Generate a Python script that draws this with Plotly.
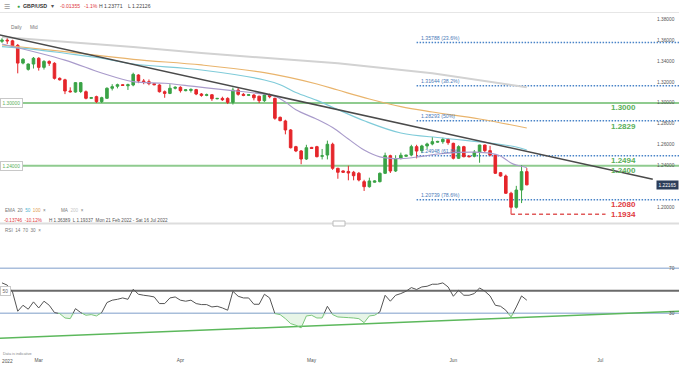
import pandas as pd
import plotly.graph_objects as go

# ---------------- data ----------------
dates = ["2022-02-21","2022-02-22","2022-02-23","2022-02-24","2022-02-25","2022-02-27","2022-02-28",
 "2022-03-01","2022-03-02","2022-03-03","2022-03-04","2022-03-06","2022-03-07","2022-03-08","2022-03-09","2022-03-10","2022-03-11",
 "2022-03-13","2022-03-14","2022-03-15","2022-03-16","2022-03-17","2022-03-18","2022-03-20","2022-03-21","2022-03-22","2022-03-23",
 "2022-03-24","2022-03-25","2022-03-27","2022-03-28","2022-03-29","2022-03-30","2022-03-31",
 "2022-04-01","2022-04-03","2022-04-04","2022-04-05","2022-04-06","2022-04-07","2022-04-08","2022-04-10","2022-04-11","2022-04-12",
 "2022-04-13","2022-04-14","2022-04-15","2022-04-17","2022-04-18","2022-04-19","2022-04-20","2022-04-21","2022-04-22","2022-04-24",
 "2022-04-25","2022-04-26","2022-04-27","2022-04-28","2022-04-29",
 "2022-05-01","2022-05-02","2022-05-03","2022-05-04","2022-05-05","2022-05-06","2022-05-08","2022-05-09","2022-05-10","2022-05-11",
 "2022-05-12","2022-05-13","2022-05-15","2022-05-16","2022-05-17","2022-05-18","2022-05-19","2022-05-20","2022-05-22","2022-05-23",
 "2022-05-24","2022-05-25","2022-05-26","2022-05-27","2022-05-29","2022-05-30","2022-05-31",
 "2022-06-01","2022-06-02","2022-06-03","2022-06-05","2022-06-06","2022-06-07","2022-06-08","2022-06-09","2022-06-10","2022-06-12",
 "2022-06-13","2022-06-14","2022-06-15","2022-06-16","2022-06-17"]

opens = [1.3590,1.3602,1.3595,1.3552,1.3382,1.3322,1.3373,1.3428,1.3341,1.3398,
 1.3380,1.3236,1.3222,1.3115,1.3105,1.3110,1.3108,1.3045,1.3061,1.3013,
 1.3045,1.3141,1.3160,1.3175,1.3165,1.3172,1.3268,1.3211,1.3204,1.3185,
 1.3172,1.3108,1.3092,1.3141,1.3150,1.3118,1.3120,1.3128,1.3086,1.3073,
 1.3079,1.3040,1.3044,1.3044,1.3006,1.3124,1.3083,1.3073,1.3076,1.3065,
 1.3022,1.3077,1.3045,1.2863,1.2828,1.2742,1.2582,1.2541,1.2464,1.2575,
 1.2582,1.2490,1.2502,1.2605,1.2375,1.2350,1.2345,1.2337,1.2327,1.2247,
 1.2199,1.2242,1.2247,1.2327,1.2496,1.2349,1.2470,1.2490,1.2502,1.2582,
 1.2544,1.2589,1.2608,1.2625,1.2630,1.2652,1.2614,1.2471,1.2582,1.2492,
 1.2490,1.2530,1.2598,1.2544,1.2502,1.2333,1.2301,1.2136,1.2002,1.2167,
 1.2343]
highs = [1.3620,1.3625,1.3605,1.3565,1.3430,1.3378,1.3440,1.3438,1.3410,1.3408,
 1.3390,1.3245,1.3232,1.3150,1.3200,1.3200,1.3120,1.3058,1.3070,1.3060,
 1.3150,1.3180,1.3185,1.3180,1.3185,1.3290,1.3275,1.3230,1.3225,1.3190,
 1.3180,1.3120,1.3180,1.3160,1.3160,1.3132,1.3140,1.3135,1.3095,1.3090,
 1.3085,1.3048,1.3060,1.3055,1.3148,1.3150,1.3095,1.3085,1.3085,1.3070,
 1.3090,1.3090,1.3050,1.2870,1.2840,1.2750,1.2590,1.2550,1.2600,1.2580,
 1.2590,1.2560,1.2640,1.2620,1.2380,1.2355,1.2400,1.2350,1.2340,1.2265,
 1.2285,1.2260,1.2335,1.2525,1.2505,1.2500,1.2525,1.2505,1.2600,1.2600,
 1.2600,1.2620,1.2675,1.2638,1.2668,1.2665,1.2620,1.2595,1.2590,1.2497,
 1.2550,1.2600,1.2600,1.2590,1.2510,1.2340,1.2315,1.2150,1.2207,1.2406,
 1.2377]
lows = [1.3575,1.3565,1.3540,1.3284,1.3370,1.3310,1.3330,1.3310,1.3320,1.3355,
 1.3225,1.3215,1.3085,1.3100,1.3099,1.3095,1.3035,1.3040,1.3000,1.3000,
 1.3040,1.3120,1.3140,1.3165,1.3125,1.3160,1.3190,1.3180,1.3170,1.3170,
 1.3100,1.3050,1.3085,1.3130,1.3100,1.3112,1.3100,1.3075,1.3060,1.3065,
 1.3020,1.3036,1.3020,1.2990,1.2985,1.3070,1.3065,1.3068,1.3025,1.3000,
 1.3010,1.3045,1.2840,1.2825,1.2700,1.2565,1.2530,1.2414,1.2455,1.2560,
 1.2480,1.2460,1.2460,1.2360,1.2275,1.2330,1.2260,1.2260,1.2250,1.2158,
 1.2190,1.2238,1.2240,1.2320,1.2330,1.2340,1.2460,1.2485,1.2490,1.2470,
 1.2520,1.2560,1.2595,1.2620,1.2610,1.2600,1.2460,1.2465,1.2480,1.2480,
 1.2480,1.2428,1.2530,1.2490,1.2320,1.2295,1.2130,1.1934,1.1990,1.2042,
 1.2213]
closes = [1.3602,1.3595,1.3548,1.3382,1.3418,1.3373,1.3428,1.3341,1.3398,1.3380,
 1.3236,1.3222,1.3115,1.3108,1.3195,1.3195,1.3045,1.3051,1.3013,1.3051,
 1.3141,1.3156,1.3175,1.3168,1.3175,1.3274,1.3211,1.3204,1.3185,1.3175,
 1.3108,1.3092,1.3141,1.3150,1.3118,1.3126,1.3130,1.3086,1.3073,1.3079,
 1.3041,1.3044,1.3031,1.3006,1.3124,1.3083,1.3073,1.3079,1.3050,1.3022,
 1.3077,1.3060,1.2854,1.2831,1.2742,1.2572,1.2541,1.2464,1.2572,1.2565,
 1.2486,1.2495,1.2605,1.2375,1.2337,1.2337,1.2330,1.2304,1.2263,1.2199,
 1.2254,1.2254,1.2327,1.2496,1.2349,1.2464,1.2500,1.2500,1.2582,1.2540,
 1.2589,1.2608,1.2630,1.2632,1.2652,1.2620,1.2471,1.2582,1.2486,1.2486,
 1.2530,1.2598,1.2544,1.2502,1.2327,1.2301,1.2136,1.2002,1.2167,1.2343,
 1.22165]

rsi = [57,55,49,31.8,37.1,33.6,40.1,34.7,40.7,37.1,
 30.6,29.7,25.8,25.2,34.1,30.6,28.2,28.8,27.6,30.6,
 39.5,41.6,42.4,43.6,42.4,51.3,46.9,46.0,45.4,44.5,
 38.6,38.6,43.6,44.5,41.6,40.7,41.6,38.6,37.7,37.7,
 35.6,36.2,34.7,32.7,49.5,45.1,43.6,43.6,38.0,38.0,
 46.9,43.6,29.7,28.8,25.2,20.8,19.3,17.0,27.6,28.2,
 25.8,25.8,36.2,28.8,26.7,26.4,26.1,25.8,25.2,21.6,
 27.6,28.2,31.2,46.0,40.7,46.0,47.5,49.6,52.8,51.1,
 53.4,54.0,55.8,55.8,57.0,53.4,45.1,50.4,46.0,46.0,
 47.5,52.5,49.6,45.4,37.1,36.2,32.7,26.7,35.6,45.4,
 41.6]

ema20_dates = ["2022-02-21","2022-03-07","2022-03-15","2022-03-22","2022-03-29","2022-04-05","2022-04-12","2022-04-20",
 "2022-04-22","2022-04-25","2022-04-27","2022-05-02","2022-05-05","2022-05-09","2022-05-12","2022-05-16","2022-05-20",
 "2022-05-25","2022-05-29","2022-06-02","2022-06-06","2022-06-09","2022-06-12","2022-06-13","2022-06-14","2022-06-15",
 "2022-06-16","2022-06-17"]
ema20_vals = [1.3565,1.3411,1.3287,1.3204,1.3189,1.3156,1.3124,1.3085,1.3065,1.3010,1.2935,1.2845,1.2765,1.2655,
 1.2550,1.2485,1.2468,1.2490,1.2512,1.2527,1.2530,1.2520,1.2492,1.2460,1.2425,1.2405,1.2395,1.2380]

ema50_dates = ["2022-02-21","2022-02-28","2022-03-07","2022-03-15","2022-03-22","2022-04-06","2022-04-20","2022-04-24",
 "2022-04-27","2022-05-02","2022-05-05","2022-05-12","2022-05-20","2022-05-30","2022-06-09","2022-06-15","2022-06-17"]
ema50_vals = [1.3539,1.3514,1.3476,1.3428,1.3373,1.3316,1.3220,1.3175,1.3100,1.3025,1.2960,1.2830,1.2713,1.2665,
 1.2617,1.2579,1.2550]

ema100_dates = ["2022-02-21","2022-03-07","2022-03-22","2022-04-06","2022-04-20","2022-05-02","2022-05-06","2022-05-13",
 "2022-05-20","2022-05-27","2022-06-07","2022-06-17"]
ema100_vals = [1.3555,1.3491,1.3418,1.3364,1.3290,1.3182,1.3124,1.3038,1.2965,1.2914,1.2847,1.2761]

ma200_dates = ["2022-02-21","2022-03-22","2022-04-06","2022-05-06","2022-05-27","2022-06-07","2022-06-17"]
ma200_vals = [1.3632,1.3536,1.3478,1.3380,1.3284,1.3220,1.3150]

trend_dates = ["2022-02-20", "2022-07-11"]
trend_vals = [1.3658, 1.2270]
rsi_trend_dates = ["2022-02-20", "2022-07-16"]
rsi_trend_vals = [7.6, 31.8]

fib_levels = [1.35788, 1.31644, 1.28293, 1.24948, 1.20739]
fib_texts = ["1.35788 (23.6%)", "1.31644 (38.2%)", "1.28293 (50%)", "1.24948 (61.8%)", "1.20739 (78.6%)"]
fib_start = "2022-05-24"
green_levels = [1.30, 1.24]
green_level_texts = ["1.30000", "1.24000"]
low_level = 1.1934
low_dates = ["2022-06-14", "2022-07-02"]

price_ticks = [1.20, 1.24, 1.26, 1.28, 1.30, 1.32, 1.34, 1.36, 1.38]
rsi_ticks = [30, 70]
month_dates = ["2022-03-01", "2022-04-01", "2022-05-01", "2022-06-01", "2022-07-01"]
month_labels = ["Mar", "Apr", "May", "Jun", "Jul"]
last_price = 1.22165

# ---------------- x scale (daily candles incl. Sundays, then calendar days) ----------------
_ts = [pd.Timestamp(d) for d in dates]
_idx = {d: i for i, d in enumerate(_ts)}
def pos(d):
    d = pd.Timestamp(d)
    if d in _idx:
        return _idx[d]
    if d < _ts[0]:
        return -(_ts[0] - d).days
    if d > _ts[-1]:
        return len(_ts) - 1 + (d - _ts[-1]).days
    prev = max(t for t in _ts if t < d)
    return _idx[prev] + 0.5

xs = [pos(d) for d in dates]

W, H = 679, 365
def py(p):
    return 1 - p / H

GREEN = "#3aa346"
RED = "#e5262b"
NB = "\u00a0"

fig = go.Figure()

fig.add_trace(go.Scatter(x=[pos(d) for d in ma200_dates], y=ma200_vals, mode="lines",
                         line=dict(color="#d2d2d2", width=2), hoverinfo="skip"))
fig.add_trace(go.Scatter(x=[pos(d) for d in ema100_dates], y=ema100_vals, mode="lines",
                         line=dict(color="#e9b46c", width=1.2, shape="spline"), hoverinfo="skip"))
fig.add_trace(go.Scatter(x=[pos(d) for d in ema50_dates], y=ema50_vals, mode="lines",
                         line=dict(color="#7fcbd9", width=1.2, shape="spline"), hoverinfo="skip"))
fig.add_trace(go.Scatter(x=[pos(d) for d in ema20_dates], y=ema20_vals, mode="lines",
                         line=dict(color="#a99bcb", width=1.2, shape="spline"), hoverinfo="skip"))
fig.add_trace(go.Scatter(x=[pos(d) for d in trend_dates], y=trend_vals, mode="lines",
                         line=dict(color="#4a4a4a", width=1.5), hoverinfo="skip"))

fig.add_trace(go.Candlestick(x=xs, open=opens, high=highs, low=lows, close=closes,
                             increasing=dict(line=dict(color=GREEN, width=1), fillcolor=GREEN),
                             decreasing=dict(line=dict(color=RED, width=1), fillcolor=RED),
                             whiskerwidth=0, hoverinfo="skip"))

fig.add_trace(go.Scatter(x=[pos(d) for d in low_dates], y=[low_level, low_level], mode="lines",
                         line=dict(color="#e05a5a", width=1.5, dash="4px,3px"), hoverinfo="skip"))

# ---------------- RSI ----------------
def split(xv, yv, thr=30.0):
    bx, by, gx, gy = [], [], [], []
    for k in range(len(xv) - 1):
        x0, y0, x1, y1 = xv[k], yv[k], xv[k + 1], yv[k + 1]
        if y0 >= thr and y1 >= thr:
            bx += [x0, x1, None]; by += [y0, y1, None]
        elif y0 < thr and y1 < thr:
            gx += [x0, x1, None]; gy += [y0, y1, None]
        else:
            t = (thr - y0) / (y1 - y0)
            xc = x0 + t * (x1 - x0)
            if y0 >= thr:
                bx += [x0, xc, None]; by += [y0, thr, None]
                gx += [xc, x1, None]; gy += [thr, y1, None]
            else:
                gx += [x0, xc, None]; gy += [y0, thr, None]
                bx += [xc, x1, None]; by += [thr, y1, None]
    return bx, by, gx, gy

bx, by, gx, gy = split(xs, rsi)
fig.add_trace(go.Scatter(x=xs, y=[30] * len(xs), mode="lines", line=dict(width=0),
                         yaxis="y2", hoverinfo="skip"))
fig.add_trace(go.Scatter(x=xs, y=[min(v, 30) for v in rsi], mode="lines", line=dict(width=0),
                         fill="tonexty", fillcolor="rgba(120,200,120,0.18)", yaxis="y2", hoverinfo="skip"))
fig.add_trace(go.Scatter(x=[pos(d) for d in rsi_trend_dates], y=rsi_trend_vals, mode="lines",
                         line=dict(color="#5cb85c", width=1.5), yaxis="y2", hoverinfo="skip"))
fig.add_trace(go.Scatter(x=bx, y=by, mode="lines", line=dict(color="#555555", width=1),
                         yaxis="y2", hoverinfo="skip"))
fig.add_trace(go.Scatter(x=gx, y=gy, mode="lines", line=dict(color="#7cc77c", width=1),
                         yaxis="y2", hoverinfo="skip"))

# ---------------- shapes ----------------
shapes = []
shapes.append(dict(type="line", xref="paper", yref="paper", x0=0, x1=1, y0=py(12.5), y1=py(12.5),
                   line=dict(color="#e6e6e6", width=1)))
shapes.append(dict(type="line", xref="paper", yref="paper", x0=0, x1=1, y0=py(223.5), y1=py(223.5),
                   line=dict(color="#dddddd", width=2)))
shapes.append(dict(type="rect", xref="paper", yref="paper", x0=333 / W, x1=345 / W, y0=py(226), y1=py(221),
                   line=dict(color="#bbbbbb", width=1), fillcolor="white"))
for lv in green_levels:
    shapes.append(dict(type="line", xref="paper", yref="y", x0=0, x1=1, y0=lv, y1=lv, layer="below",
                       line=dict(color="#8fcb8f", width=2)))
for lv in fib_levels:
    shapes.append(dict(type="line", xref="x", yref="y", x0=pos(fib_start), x1=pos("2022-07-16"), y0=lv, y1=lv,
                       layer="below", line=dict(color="#4a84c8", width=1.5, dash="1.5px,1.5px")))
for lv, col, wd in [(70, "#a9bedc", 1.5), (30, "#a9bedc", 1.5), (50, "#6a6a6a", 2)]:
    shapes.append(dict(type="line", xref="paper", yref="y2", x0=0, x1=1, y0=lv, y1=lv, layer="below",
                       line=dict(color=col, width=wd)))

# ---------------- annotations ----------------
ann = []
FONT = "Arial, Liberation Sans, sans-serif"
def txt(px, pyy, s, color="#555", size=5, xanchor="left"):
    ann.append(dict(xref="paper", yref="paper", x=px / W, y=py(pyy), text=s, showarrow=False,
                    xanchor=xanchor, yanchor="middle", font=dict(family=FONT, size=size, color=color)))

def sp(c, s):
    return "<span style='color:%s'>%s</span>" % (c, s)

S2 = NB * 2

# header
txt(2, 6, "☰", "#999", 7)
txt(15, 6, "●", "#3aa346", 5)
txt(21, 6, "<b>GBP/USD</b>", "#333", 5.3)
txt(49, 6.5, "▾", "#555", 6)
txt(58, 6, "-0.01355", "#e0393e", 5.1)
txt(82, 6, "-1.1%", "#e0393e", 5.1)
txt(97, 6, "H 1.23771", "#444", 5.1)
txt(126, 6, "L 1.22126", "#444", 5.1)
txt(9, 27, "Daily", "#777", 4.8)
txt(28, 27, "Mid", "#777", 4.8)

# legend rows
txt(3, 211, "EMA" + S2 + "20" + S2 + sp("#4fb3d0", "50") + S2 + sp("#e0a050", "100") + S2 + "×", "#777", 4.6)
txt(59, 211, "MA" + S2 + sp("#c8c8c8", "200") + S2 + "×", "#777", 4.6)
txt(2, 220, "-0.13746" + S2 + "-10.12%", "#e0393e", 4.6)
txt(47, 220, "H 1.36389" + S2 + "L 1.19337" + S2 + "Mon 21 Feb 2022 - Sat 16 Jul 2022", "#555", 4.6)
txt(3, 230, "RSI" + S2 + "14" + S2 + "70" + S2 + "30" + S2 + "×", "#777", 4.6)
txt(1, 354, "Data is indicative", "#888", 3.8)
txt(0, 361.5, "2022", "#555", 4.8)

# price axis labels (right, inside)
for v in price_ticks:
    ann.append(dict(xref="paper", yref="y", x=677 / W, y=v, text="%.5f" % v, showarrow=False,
                    xanchor="right", yanchor="middle", font=dict(family=FONT, size=4.8, color="#555")))
for v in rsi_ticks:
    ann.append(dict(xref="paper", yref="y2", x=677 / W, y=v, text=str(v), showarrow=False,
                    xanchor="right", yanchor="middle", font=dict(family=FONT, size=4.8, color="#555")))

# fib labels
for lv, s in zip(fib_levels, fib_texts):
    ann.append(dict(xref="x", yref="y", x=pos(fib_start), y=lv, text=s, showarrow=False, xanchor="left",
                    yanchor="bottom", xshift=2, yshift=0, font=dict(family=FONT, size=5.2, color="#4a7ab8")))
lvl = [(1.30, "1.3000", "#5aaf5a", -5), (1.28293, "1.2829", "#5aaf5a", -6),
       (1.24948, "1.2494", "#5aaf5a", -4.5), (1.24, "1.2400", "#5aaf5a", -5),
       (1.20739, "1.2080", "#e0393e", -4.5), (1.1934, "1.1934", "#e0393e", -0.5)]
for lv, s, c, ys in lvl:
    ann.append(dict(xref="paper", yref="y", x=638 / W, y=lv, text="<b>" + s + "</b>", showarrow=False,
                    xanchor="right", yanchor="middle", yshift=ys, font=dict(family=FONT, size=8, color=c)))
for lv, s in zip(green_levels, green_level_texts):
    ann.append(dict(xref="paper", yref="y", x=0, y=lv, text=s, showarrow=False, xanchor="left",
                    yanchor="middle", bgcolor="white", bordercolor="#c8c8c8", borderwidth=1, borderpad=1.5,
                    font=dict(family=FONT, size=4.8, color="#5aaf5a")))
ann.append(dict(xref="paper", yref="y2", x=0, y=50, text="50", showarrow=False, xanchor="left",
                yanchor="middle", bgcolor="white", bordercolor="#c8c8c8", borderwidth=1, borderpad=1.5,
                font=dict(family=FONT, size=4.8, color="#666")))
ann.append(dict(xref="paper", yref="y", x=1, y=last_price, text="%.5f" % last_price, showarrow=False,
                xanchor="right", yanchor="middle", bgcolor="#2c3e5a", borderpad=1.5,
                font=dict(family=FONT, size=4.8, color="white")))

fig.update_layout(
    width=W, height=H, margin=dict(l=0, r=0, t=0, b=0),
    paper_bgcolor="white", plot_bgcolor="white", showlegend=False,
    shapes=shapes, annotations=ann, hovermode=False,
    xaxis=dict(domain=[0, 1], range=[-0.38, 129], anchor="y2", showgrid=False, zeroline=False,
               showline=False, ticks="", rangeslider=dict(visible=False),
               tickvals=[pos(d) for d in month_dates], ticktext=month_labels,
               tickfont=dict(family=FONT, size=4.8, color="#555"), ticklabelstandoff=9),
    yaxis=dict(domain=[1 - 222 / H, 1 - 12 / H], range=[1.1861, 1.3871], anchor="x",
               showgrid=False, zeroline=False, showline=False, ticks="", showticklabels=False),
    yaxis2=dict(domain=[1 - 347 / H, 1 - 234.5 / H], range=[0, 100], anchor="x",
                showgrid=False, zeroline=False, showline=False, ticks="", showticklabels=False),
)

fig.write_html("out.html", config={"displayModeBar": False},
               post_script="document.body.style.margin='0';document.body.style.padding='0';document.body.style.overflow='hidden';")
